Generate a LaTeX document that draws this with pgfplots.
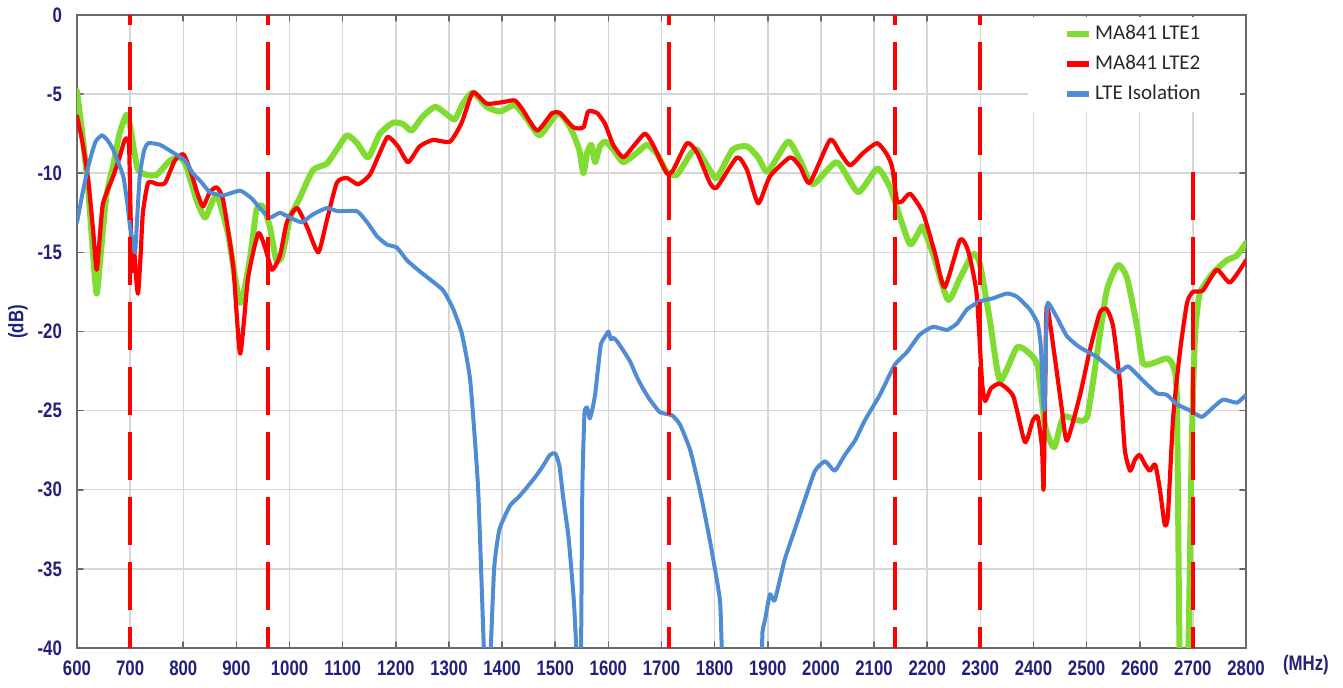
\documentclass[border=0pt]{standalone}
\usepackage{fontspec}
\setmainfont{Carlito}
\newfontfamily\tickfont[FakeStretch=0.8]{Liberation Sans}
\usepackage{pgfplots}
\pgfplotsset{compat=1.18}
\definecolor{cgreen}{RGB}{128,220,48}
\definecolor{cred}{RGB}{255,0,0}
\definecolor{cblue}{RGB}{79,140,212}
\definecolor{navy}{RGB}{32,32,125}
\definecolor{gridgray}{RGB}{215,215,215}
\definecolor{axisgray}{RGB}{105,105,105}
\definecolor{legtext}{RGB}{40,40,40}
\begin{document}
\begin{tikzpicture}
\path[use as bounding box] (-38.5pt,-20pt) rectangle (633pt,324pt);
\begin{axis}[
  scale only axis, width=584.5pt, height=316.5pt,
  xmin=600, xmax=2800, ymin=-40, ymax=0,
  xtick={600,700,...,2800}, ytick={-40,-35,...,0},
  grid=major, grid style={color=gridgray, line width=0.75pt},
  axis line style={color=axisgray, line width=1pt},
  tick style={color=axisgray, line width=0.8pt},
  major tick length=3pt,
  /pgf/number format/assume math mode=true,
  /pgf/number format/set thousands separator={},
  tick label style={font=\tickfont\bfseries\fontsize{10.5}{12}\selectfont, text=navy},
  xticklabel style={yshift=-3pt},
  yticklabel style={xshift=-4pt},
  xlabel={(MHz)}, xlabel style={at={(axis description cs:1.0513,-0.027)}, anchor=center, font=\tickfont\bfseries\fontsize{10.5}{12}\selectfont, text=navy},
  ylabel={(dB)}, ylabel style={at={(axis description cs:-0.0505,0.515)}, anchor=center, font=\tickfont\bfseries\fontsize{10.5}{12}\selectfont, text=navy},
  legend cell align=left,
  legend style={at={(0.995,0.998)}, anchor=north east, draw=none, fill=white,
    inner xsep=18pt, inner ysep=2pt, row sep=1.5pt,
    font=\fontsize{10.5}{12}\selectfont, text=legtext,
    nodes={inner sep=1.5pt, text height=8pt, text depth=2.5pt}},
  legend image code/.code={\draw[#1, line width=3pt] (0pt,0pt) -- (11pt,0pt);},
  line join=round, line cap=round,
]
% MA841 LTE1
\addplot[cgreen, line width=3pt, smooth, tension=0.35] coordinates {
(600,-4.8) (610,-7.5) (621,-11) (630,-15) (637,-17.6) (645,-15) (655,-11.5) (668,-9.5) (680,-7.5) (693,-6.3)
(700,-7) (707,-8.5) (715,-9.8) (731,-10.1) (750,-10.1) (775,-9.2) (794,-9.0) (806,-9.6) (825,-11.7) (841,-12.8)
(856,-11.7) (865,-11.5) (884,-13.8) (907,-18.2) (925,-15.5) (938,-12.3) (950,-12.1) (963,-13.4) (975,-15.5) (985,-15.3)
(995,-13.8) (1001,-12.8) (1020,-11.5) (1044,-9.8) (1070,-9.4) (1089,-8.5) (1108,-7.6) (1127,-8.1) (1148,-9.0) (1170,-7.5)
(1195,-6.8) (1214,-6.9) (1230,-7.3) (1251,-6.4) (1274,-5.8) (1293,-6.2) (1311,-6.6) (1326,-5.6) (1345,-4.9) (1371,-5.8)
(1396,-6.1) (1424,-5.7) (1447,-6.6) (1471,-7.6) (1505,-6.2) (1528,-7.1) (1545,-8.5) (1553,-10.0) (1560,-8.7) (1568,-8.2)
(1575,-9.3) (1584,-8.3) (1594,-8.0) (1609,-8.5) (1628,-9.3) (1654,-8.7) (1673,-8.2) (1692,-8.8) (1710,-9.9) (1729,-10.1)
(1754,-8.8) (1767,-8.5) (1791,-9.8) (1804,-10.3) (1834,-8.5) (1861,-8.3) (1882,-9.0) (1900,-9.9) (1938,-8.0) (1961,-9.2)
(1985,-10.7) (2030,-9.3) (2070,-11.2) (2106,-9.7) (2130,-10.9) (2149,-12.8) (2168,-14.5) (2186,-13.6) (2192,-13.4) (2211,-15.1)
(2239,-18.0) (2262,-16.6) (2286,-15.1) (2299,-15.7) (2318,-19.3) (2337,-23.1) (2369,-21.0) (2393,-21.4) (2408,-22.2) (2421,-25.8)
(2431,-26.9) (2440,-27.3) (2456,-25.4) (2482,-25.6) (2501,-25.4) (2519,-21.6) (2538,-17.4) (2559,-15.8) (2576,-16.6) (2595,-19.7)
(2606,-22.0) (2625,-22.0) (2651,-21.7) (2663,-22.2) (2670,-24.3) (2676,-42) (2690,-42) (2698,-27.0) (2704,-20.3) (2713,-17.6)
(2738,-16.3) (2764,-15.5) (2783,-15.2) (2800,-14.4)
};
\addlegendentry{MA841 LTE1}
% MA841 LTE2
\addplot[cred, line width=2.1pt, smooth, tension=0.35] coordinates {
(600,-6.4) (610,-8) (621,-10.4) (630,-13.5) (637,-16.1) (643,-14) (649,-11.9) (668,-10.2) (680,-9) (690,-7.9)
(698,-8.3) (703,-16.1) (707,-14.7) (711,-16.5) (715,-17.6) (720,-15) (724,-12.5) (734,-10.6) (752,-10.7) (766,-10.6)
(784,-9.2) (800,-8.8) (813,-9.8) (826,-11.2) (837,-12.1) (850,-11.2) (863,-10.9) (875,-11.7) (894,-15.9) (907,-21.4)
(922,-16.6) (941,-13.8) (954,-14.7) (967,-16.1) (982,-15.2) (995,-13.1) (1014,-12.2) (1033,-13.4) (1054,-15.0) (1070,-13.0)
(1089,-10.6) (1108,-10.3) (1129,-10.7) (1151,-10.1) (1170,-8.7) (1185,-7.7) (1204,-8.3) (1223,-9.3) (1245,-8.3) (1270,-7.9)
(1302,-8.0) (1324,-6.8) (1345,-4.9) (1371,-5.6) (1402,-5.5) (1424,-5.4) (1439,-6.0) (1466,-7.3) (1494,-6.2) (1509,-6.2)
(1534,-7.1) (1553,-7.1) (1562,-6.1) (1579,-6.2) (1594,-6.9) (1609,-8.2) (1628,-9.0) (1647,-8.3) (1669,-7.5) (1684,-8.2)
(1710,-10.0) (1722,-9.8) (1748,-8.1) (1767,-8.7) (1791,-10.6) (1804,-10.9) (1842,-9.0) (1861,-9.8) (1882,-11.9) (1904,-10.2)
(1942,-9.0) (1961,-9.6) (1979,-10.6) (2017,-7.9) (2036,-8.7) (2055,-9.5) (2080,-8.7) (2106,-8.1) (2124,-8.8) (2134,-9.6)
(2143,-11.7) (2152,-11.8) (2168,-11.3) (2192,-12.5) (2215,-15.1) (2233,-17.2) (2262,-14.2) (2277,-14.9) (2293,-17.6) (2303,-23.1)
(2309,-24.4) (2320,-23.6) (2337,-23.3) (2362,-24.1) (2384,-27.0) (2399,-25.6) (2408,-25.4) (2416,-27.3) (2419,-30.0) (2422,-24)
(2425,-18.4) (2440,-21.6) (2453,-24.8) (2463,-26.9) (2487,-24.1) (2506,-21.2) (2525,-18.8) (2538,-18.6) (2550,-19.7) (2563,-23.3)
(2572,-27.5) (2582,-28.8) (2591,-28.1) (2600,-27.8) (2610,-28.4) (2619,-28.8) (2629,-28.4) (2638,-30.0) (2647,-32.2) (2653,-31.6)
(2663,-25.4) (2676,-21.2) (2689,-18.2) (2700,-17.5) (2719,-17.4) (2745,-16.1) (2770,-16.9) (2800,-15.5)
};
\addlegendentry{MA841 LTE2}
% LTE Isolation
\addplot[cblue, line width=2pt, smooth, tension=0.3] coordinates {
(600,-13.1) (612,-11) (624,-9.2) (635,-8) (647,-7.6) (657,-7.9) (668,-8.5) (687,-10.2) (695,-12) (700,-13.4)
(709,-15.0) (713,-13) (718,-10.2) (726,-8.6) (734,-8.1) (756,-8.2) (781,-8.7) (803,-9.2) (818,-10.0) (835,-10.6)
(850,-11.2) (875,-11.4) (907,-11.1) (929,-11.6) (944,-12.2) (963,-12.8) (982,-12.5) (1001,-12.8) (1023,-13.1) (1044,-12.6)
(1070,-12.2) (1091,-12.4) (1127,-12.4) (1146,-13.1) (1165,-14.0) (1183,-14.5) (1202,-14.7) (1221,-15.5) (1245,-16.2) (1264,-16.7)
(1289,-17.4) (1307,-18.5) (1324,-20.1) (1340,-23.1) (1355,-30) (1368,-42) (1376,-42) (1385,-35) (1395,-32.5) (1415,-31)
(1430,-30.5) (1443,-30) (1460,-29.3) (1475,-28.6) (1490,-27.8) (1500,-27.7) (1508,-28.5) (1515,-30.5) (1525,-33) (1535,-37)
(1543,-42) (1548,-42) (1551,-30) (1555,-25.2) (1560,-24.8) (1565,-25.5) (1570,-24.9) (1575,-24) (1580,-22.5) (1586,-20.8)
(1596,-20.2) (1600,-20.0) (1605,-20.5) (1609,-20.4) (1616,-20.6) (1630,-21.3) (1641,-21.9) (1654,-22.9) (1665,-23.6) (1678,-24.3)
(1697,-25.1) (1720,-25.3) (1735,-25.9) (1754,-27.5) (1772,-30.0) (1791,-33.2) (1810,-37.0) (1819,-42) (1884,-42) (1890,-39)
(1895,-38.2) (1904,-36.6) (1913,-37.0) (1932,-34.4) (1951,-32.5) (1970,-30.6) (1989,-28.8) (2008,-28.2) (2026,-28.8) (2045,-27.8)
(2064,-26.9) (2083,-25.6) (2111,-24.0) (2139,-22.1) (2162,-21.3) (2186,-20.2) (2211,-19.7) (2237,-19.9) (2256,-19.5) (2275,-18.6)
(2299,-18.1) (2324,-17.9) (2350,-17.6) (2369,-17.8) (2393,-18.6) (2408,-19.5) (2414,-21) (2418,-24.5) (2421,-24.8) (2424,-20)
(2427,-18.2) (2444,-19.1) (2463,-20.3) (2487,-21.0) (2519,-21.6) (2557,-22.6) (2578,-22.2) (2606,-23.1) (2632,-23.9) (2651,-24.0)
(2670,-24.6) (2695,-25.0) (2717,-25.4) (2738,-24.8) (2757,-24.3) (2783,-24.5) (2800,-24.0)
};
\addlegendentry{LTE Isolation}
% band edges
\addplot[cred, line width=2pt, dash pattern=on 24pt off 8.5pt, dash phase=19pt, line cap=butt, forget plot] coordinates {(700,0) (700,-40)};
\addplot[cred, line width=2pt, dash pattern=on 24pt off 8.5pt, dash phase=19pt, line cap=butt, forget plot] coordinates {(960,0) (960,-40)};
\addplot[cred, line width=2pt, dash pattern=on 24pt off 8.5pt, dash phase=19pt, line cap=butt, forget plot] coordinates {(1715,0) (1715,-40)};
\addplot[cred, line width=2pt, dash pattern=on 24pt off 8.5pt, dash phase=19pt, line cap=butt, forget plot] coordinates {(2140,0) (2140,-40)};
\addplot[cred, line width=2pt, dash pattern=on 24pt off 8.5pt, dash phase=19pt, line cap=butt, forget plot] coordinates {(2300,0) (2300,-40)};
\addplot[cred, line width=2pt, dash pattern=on 24pt off 8.5pt, line cap=butt, forget plot] coordinates {(2700,-9.9) (2700,-40)};
\end{axis}
\end{tikzpicture}
\end{document}
